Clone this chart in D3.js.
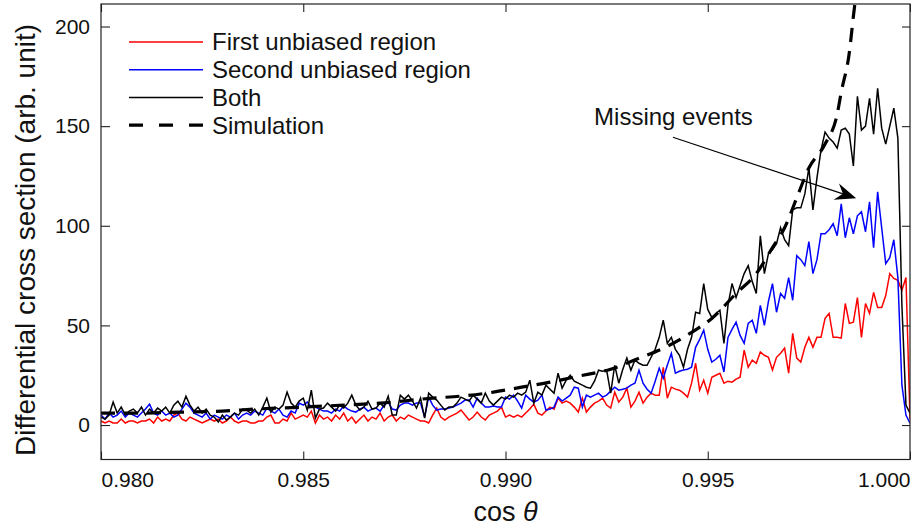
<!DOCTYPE html>
<html>
<head>
<meta charset="utf-8">
<script src="https://cdn.jsdelivr.net/npm/d3@7"></script>
<style>
  body { margin: 0; background: #fff; }
  svg text { font-family: "Liberation Sans", Arial, Helvetica, sans-serif; fill: #111; }
</style>
</head>
<body>
<svg id="chart" width="911" height="529"></svg>
<script>
// Histogram bins in cos(theta), 0.0001 wide, starting at 0.9800
const binStart = 0.9800;
const binStep = 0.0001;

// Differential cross section per bin (arb. unit)
const firstRegion = [
  2,1,2,1,1,3,1,2,2,1, 2,2,3,1,4,2,3,2,5,6, 3,2,4,3,2,1,2,3,2,3, 1,2,4,2,1,2,2,
  1,1,2,2,4,5,1,1,3,2, 6,3,4,5,4,7,1,5,3,4, 2,5,3,6,2,4,1,3,5,2, 4,3,6,2,4,5,
  2,4,3,5,4,3,2,2,1,5, 8.5,4,2.5,4,5,6,7.5,5,2.5,4, 6.5,4,2.5,5,6,7,9,4,5,4, 5,4,6,8,10.5,6,
  5,7,9,8,13.5,11,12,11,9,6.5, 13.5,6.5,9,11,12,13.5,10,8.5,16.5,11.5,
  14,18.5,9,12,16.5,11,14,16,15,15,29,13.5,
  19,18,17.5,16,14,21,31,17.5,22.5,16, 24,25,26,21,22,21.5,23,24,37.6,29,
  32.6,31,36.6,35,34,27.6,34,36,38.6,26,
  46,33.6,31.6,39,44,39,44,44,53.6,56, 44,44,43.6,61,51,51.6,64,44,61,56,
  66.6,59,59,65,76,73.6,72.6,67.6,74,3
];
const secondRegion = [
  5,3,6,4,5,7,4,6,5,4, 6,8,10.5,6,5,7,5,6,4,5, 8,11,9,6,5,4,6,3,5,4, 3,5,4,6,3,5,6,
  5,7,6,5,8.5,7,6,8,5,4, 7,6,11,10,11.5,9,9,8,7,7, 6,8,7,9.5,8,7,6.5,8,9,7, 8,8.5,7,10,11.5,8,
  7.5,10,11,11,10,11,11,4,14,10, 7.5,8,8,8.5,9,10,11,12.5,12.5,9, 13.5,11,9,9,9.5,9,9,14,13,15, 12,8.5,15,13,11.5,12.5,
  15,7.5,8,9,14,12,13.5,15,19,18.5, 9,15,14,15,16,14,15,17,19,17.5,
  18,18.5,20,21,27.5,21,18,16,22,28.5,23.5,30,
  36,26,27,27.6,28,29,39,43,47.6,38, 31.6,33,35,26.6,44,48,51.6,45,41,51,
  52.6,46,60,50,62,71,56.6,66,63.6,74,
  62.6,85,83,80,92,76,83,96,96,98, 101,95,111,94,104,96,105,107,97,112,
  89,117,99,81,84,93,74,20,5,1
];
const bothRegions = [
  4,3,5,11.5,6,9,5,7,8,6, 9,5,8,6,8.5,7,9,6,10,12, 9,14.5,10,7,9,6,8,5,4,1.5, 5,2.5,4,6,5,8,7.5,
  6,8,5,9,13.5,6.5,9,8,10,16.5, 11,9,12,13.5,7.5,17.5,3.5,8,8.5,11, 9,7,10,8.5,11,15,10,7.5,9,12, 8,8.5,11,9,14.5,5,
  5,15,13,15,12,8.5,13.5,3.5,16,14, 12.5,10,7.5,9,9,11,14,13,12,15, 13,11,16,12,10,12,14,13,15,14, 16,15,16.5,22.5,11,16.5,
  15,20,18,16,26,18.5,22.5,25,22,21, 20,19,18.5,22,27.5,27,27.5,16,30,21,
  28,33.6,27.5,32.6,31,30,30,34,38,44,52.6,41,
  44,38,35,29,38,44,56.6,56,71,58, 54,56,57.6,41,60,71,64,70,76,80,
  72,66,95,76,86,88,91,99,93,90,
  108,109,109,116,129,108,124,138,147,144, 142,139,148,149,146,130,165,148,150,164,
  146,169,149,141,150,159,144,60,10,6
];

// Simulated cross section
const simCos   = [0.9800,0.9810,0.9820,0.9830,0.9838,0.9850,0.9860,0.9869,0.9882,0.9889,0.9897,0.9904,0.9911,0.9918,
                  0.9926,0.9933,0.9940,0.9946,0.9951,0.9957,0.9962,0.9966,0.9969,0.9972,0.9975,0.9979,0.9982,0.9983,
                  0.9985,0.9986,0.9987];
const simValue = [6,6,6.5,7,8,9,10,11,13.5,14.5,16.5,19,21.5,24.5,
                  28,33.5,39.5,46.5,53.5,66,76,89,99,114,129,141,156,167,
                  187,205,222];

const xTicks = [0.980, 0.985, 0.990, 0.995, 1.000];
const yTicks = [0, 50, 100, 150, 200];

const seriesNames  = ["First unbiased region", "Second unbiased region", "Both", "Simulation"];
const seriesColors = ["#ff0000", "#0000ff", "#000000", "#000000"];

const W = 911, H = 529;
const frame = { left: 101, right: 910, top: 4, bottom: 459.5 };

const svg = d3.select("#chart");
const x = d3.scaleLinear().domain([0.980, 1.000]).range([frame.left, frame.right]);
const y = d3.scaleLinear().domain([-17.3, 211.3]).range([frame.bottom, frame.top]);

svg.append("defs").append("clipPath").attr("id", "plotClip")
  .append("rect")
  .attr("x", frame.left).attr("y", frame.top)
  .attr("width", frame.right - frame.left).attr("height", frame.bottom - frame.top);

const plot = svg.append("g").attr("clip-path", "url(#plotClip)");

const binLine = d3.line()
  .x((d, i) => x(binStart + i * binStep))
  .y(d => y(d));

[firstRegion, secondRegion, bothRegions].forEach((series, k) => {
  plot.append("path")
    .datum(series)
    .attr("fill", "none")
    .attr("stroke", seriesColors[k])
    .attr("stroke-width", 1.5)
    .attr("stroke-linejoin", "miter")
    .attr("d", binLine);
});

const simLine = d3.line()
  .x(d => x(d[0]))
  .y(d => y(d[1]))
  .curve(d3.curveMonotoneX);

plot.append("path")
  .datum(simCos.map((c, i) => [c, simValue[i]]))
  .attr("fill", "none")
  .attr("stroke", seriesColors[3])
  .attr("stroke-width", 3.2)
  .attr("stroke-dasharray", "14,9")
  .attr("d", simLine);

// Axes: ticks point inward on all four sides
const axisColor = "#222";
const bottomAxis = svg.append("g")
  .attr("transform", `translate(0,${frame.bottom})`)
  .call(d3.axisBottom(x).tickValues(xTicks).tickFormat(d3.format(".3f"))
    .tickSizeInner(-8).tickSizeOuter(0).tickPadding(12.5));
bottomAxis.selectAll(".tick text")
  .style("font-size", "21px")
  .attr("text-anchor", (d, i) => i === 0 ? "start" : (i === xTicks.length - 1 ? "end" : "middle"));

const leftAxis = svg.append("g")
  .attr("transform", `translate(${frame.left},0)`)
  .call(d3.axisLeft(y).tickValues(yTicks).tickFormat(d3.format("d"))
    .tickSizeInner(-9).tickSizeOuter(0).tickPadding(11));
leftAxis.selectAll(".tick text").style("font-size", "21px");

svg.append("g")
  .attr("transform", `translate(0,${frame.top})`)
  .call(d3.axisTop(x).tickValues(xTicks).tickFormat("").tickSizeInner(-8).tickSizeOuter(0));
svg.append("g")
  .attr("transform", `translate(${frame.right},0)`)
  .call(d3.axisRight(y).tickValues(yTicks).tickFormat("").tickSizeInner(-8).tickSizeOuter(0));

svg.selectAll(".domain").remove();
svg.selectAll(".tick line").attr("stroke", axisColor).attr("stroke-width", 1.1);
svg.selectAll(".tick text").attr("fill", "#111").style("font-family", "'Liberation Sans', Arial, sans-serif");

svg.append("rect")
  .attr("x", frame.left).attr("y", frame.top)
  .attr("width", frame.right - frame.left).attr("height", frame.bottom - frame.top)
  .attr("fill", "none").attr("stroke", axisColor).attr("stroke-width", 1.2);

// Axis titles
svg.append("text")
  .attr("transform", "translate(35,240) rotate(-90)")
  .attr("text-anchor", "middle")
  .style("font-size", "28px")
  .text("Differential cross section (arb. unit)");

const xTitle = svg.append("text")
  .attr("x", (frame.left + frame.right) / 2)
  .attr("y", 521)
  .attr("text-anchor", "middle")
  .style("font-size", "27px");
xTitle.append("tspan").text("cos ");
xTitle.append("tspan").style("font-style", "italic").text("θ");

// Legend
const legend = svg.append("g").attr("transform", "translate(129,42)");
seriesNames.forEach((name, k) => {
  const row = legend.append("g").attr("transform", `translate(0,${k * 27.7})`);
  row.append("line")
    .attr("x1", 0).attr("x2", 74).attr("y1", 0).attr("y2", 0)
    .attr("stroke", seriesColors[k])
    .attr("stroke-width", k === 3 ? 3.2 : 1.5)
    .attr("stroke-dasharray", k === 3 ? "14,16" : null);
  row.append("text")
    .attr("x", 83).attr("y", 0).attr("dy", "0.35em")
    .style("font-size", "24px")
    .text(name);
});

// Annotation with arrow
const noteText = { c: 0.99219, v: 150.4 };
const arrowFrom = { c: 0.99414, v: 144.4 };
const arrowTo = { c: 0.99867, v: 113.8 };

svg.append("text")
  .attr("x", x(noteText.c)).attr("y", y(noteText.v))
  .style("font-size", "24px")
  .text("Missing events");

const x0 = x(arrowFrom.c), y0 = y(arrowFrom.v), x1 = x(arrowTo.c), y1 = y(arrowTo.v);
const ang = Math.atan2(y1 - y0, x1 - x0);
const headLen = 21, headHalf = 8.5, notch = 14;
const ux = Math.cos(ang), uy = Math.sin(ang), px = -uy, py = ux;
svg.append("line")
  .attr("x1", x0).attr("y1", y0)
  .attr("x2", x1 - ux * notch).attr("y2", y1 - uy * notch)
  .attr("stroke", "#000").attr("stroke-width", 1.1);
svg.append("path")
  .attr("d", d3.line()([
    [x1, y1],
    [x1 - ux * headLen + px * headHalf, y1 - uy * headLen + py * headHalf],
    [x1 - ux * notch, y1 - uy * notch],
    [x1 - ux * headLen - px * headHalf, y1 - uy * headLen - py * headHalf]
  ]) + "Z")
  .attr("fill", "#000");
</script>
</body>
</html>
